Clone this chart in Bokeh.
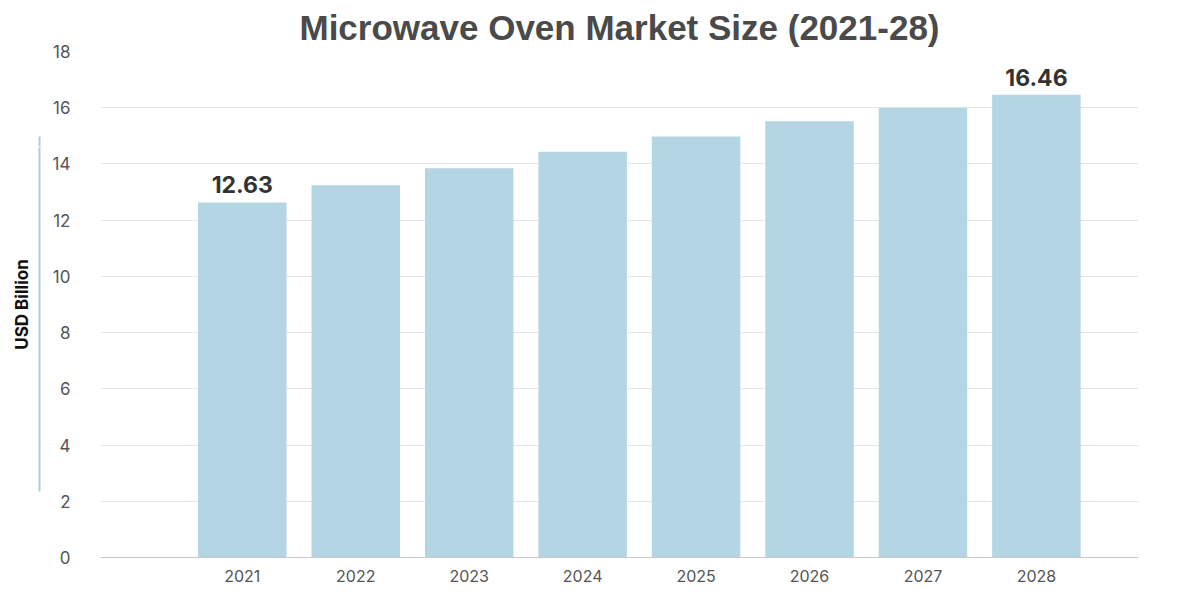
from bokeh.plotting import figure
from bokeh.models import Range1d, FixedTicker, Arrow, NormalHead, ColumnDataSource, LinearAxis
from bokeh.core.properties import value
from bokeh.embed import file_html
from bokeh.resources import INLINE

years = ["2021", "2022", "2023", "2024", "2025", "2026", "2027", "2028"]
values = [12.63, 13.24, 13.85, 14.43, 14.98, 15.52, 16.00, 16.46]
y_ticks = [0, 2, 4, 6, 8, 10, 12, 14, 16, 18]
labeled_idx = [0, 7]

pos = list(range(len(years)))
src = ColumnDataSource(dict(x=pos, top=values))
lab = ColumnDataSource(dict(x=[pos[i] for i in labeled_idx],
                            y=[values[i] for i in labeled_idx],
                            t=[f"{values[i]:.2f}" for i in labeled_idx]))

p = figure(width=1184, height=584, output_backend="svg", toolbar_location=None,
           x_range=Range1d(-1.25, 7.9), y_range=Range1d(0, 18),
           min_border_left=100, min_border_right=46, min_border_top=40, min_border_bottom=22)
p.outline_line_color = None
p.background_fill_color = "white"

p.title.text = "Microwave Oven Market Size (2021-28)"
p.title.align = "center"
p.title.text_font = "Liberation Sans"
p.title.text_font_size = "35px"
p.title.text_font_style = "bold"
p.title.text_color = "#4a4a4a"

p.vbar(x="x", top="top", width=0.78, source=src, fill_color="#b4d5e3", line_color=None)
p.text(x="x", y="y", text="t", source=lab, text_align="center", text_baseline="bottom",
       y_offset=-9, text_font_size="23px", text_font_style="bold", text_color="#333333",
       text_font=value("Inter"))

p.xgrid.grid_line_color = None
p.ygrid.grid_line_color = "#e6e6e6"
p.ygrid.ticker = FixedTicker(ticks=y_ticks)

p.yaxis.ticker = FixedTicker(ticks=y_ticks)
p.yaxis.axis_line_color = None
p.yaxis.major_tick_line_color = None
p.yaxis.minor_tick_line_color = None
p.yaxis.major_label_text_font = "Inter"
p.yaxis.major_label_text_font_size = "17px"
p.yaxis.major_label_text_color = "#555555"
p.yaxis.major_label_standoff = 24
p.yaxis.axis_label = " "
p.yaxis.axis_label_text_font_size = "2px"
p.yaxis.axis_label_standoff = 5

# outer axis: the light-blue arrow shaft plus the "USD Billion" title
arrow_axis = LinearAxis(ticker=FixedTicker(ticks=[]), bounds=(2.35, 14.6),
                        axis_line_color="#a9cfdd", axis_line_width=2,
                        major_tick_line_color=None, minor_tick_line_color=None,
                        axis_label="USD Billion", axis_label_text_font="Inter",
                        axis_label_text_font_size="17px", axis_label_text_font_style="bold",
                        axis_label_text_color="#111111", axis_label_standoff=8)
p.add_layout(arrow_axis, "left")

p.xaxis.ticker = FixedTicker(ticks=pos)
p.xaxis.major_label_overrides = {i: y for i, y in zip(pos, years)}
p.xaxis.axis_line_color = "#c8c8c8"
p.xaxis.major_tick_line_color = None
p.xaxis.minor_tick_line_color = None
p.xaxis.major_label_text_font = "Inter"
p.xaxis.major_label_text_font_size = "16px"
p.xaxis.major_label_text_color = "#555555"
p.xaxis.major_label_standoff = 6

p.add_layout(Arrow(end=NormalHead(size=10, fill_color="#9fcbdc", line_color="#9fcbdc"),
                   x_start=-61, y_start=400, x_end=-61, y_end=421,
                   start_units="screen", end_units="screen",
                   line_color="#a9cfdd", line_width=2))

open("out.html", "w").write(file_html(p, INLINE))
